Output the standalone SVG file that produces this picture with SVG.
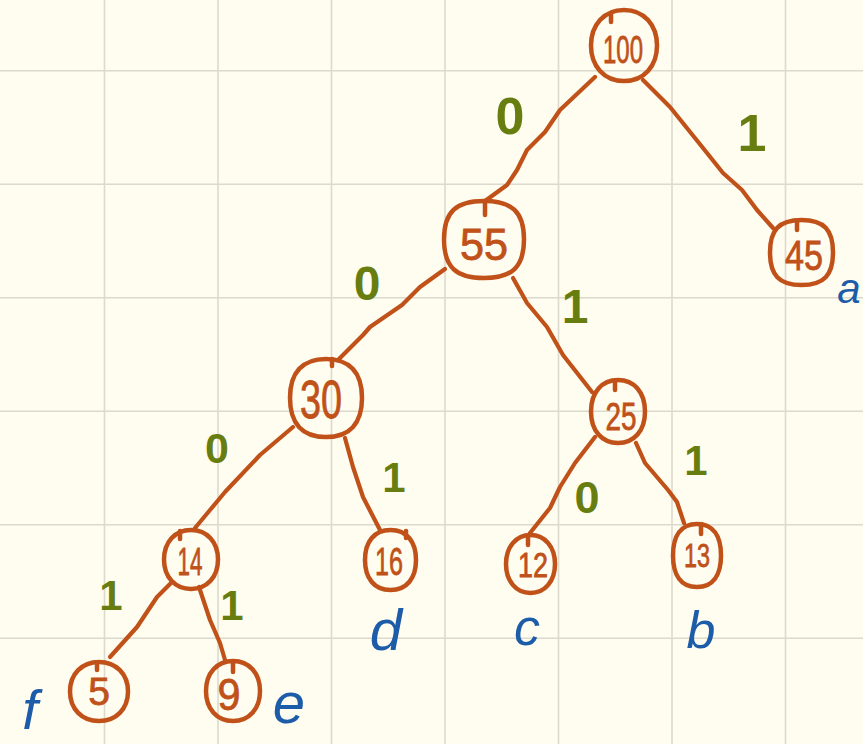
<svg xmlns="http://www.w3.org/2000/svg" width="863" height="744" viewBox="0 0 863 744">
<style>
.grid line{stroke:#dcd9cd;stroke-width:1.6}
.node path{fill:none;stroke:#c05119;stroke-width:4.5;stroke-linecap:round;stroke-linejoin:round}
.node text.num{fill:#c05119;stroke:#c05119;stroke-width:0.8;font-family:"Liberation Sans",Arial,sans-serif;text-anchor:middle}
#edges polyline{fill:none;stroke:#c05119;stroke-width:4.2;stroke-linecap:round;stroke-linejoin:round}
.bit{fill:#687d10;font-family:"Liberation Sans",Arial,sans-serif;font-weight:bold;text-anchor:middle}
.node text.sym{fill:#1d5ca8;font-family:"Liberation Sans",Arial,sans-serif;font-style:italic;text-anchor:middle}
</style>
<rect width="863" height="744" fill="#fffdf0"/>
<g class="grid">
<line x1="104.5" y1="0" x2="104.5" y2="744"/>
<line x1="218" y1="0" x2="218" y2="744"/>
<line x1="331.5" y1="0" x2="331.5" y2="744"/>
<line x1="445" y1="0" x2="445" y2="744"/>
<line x1="558.5" y1="0" x2="558.5" y2="744"/>
<line x1="672" y1="0" x2="672" y2="744"/>
<line x1="785.5" y1="0" x2="785.5" y2="744"/>
<line x1="0" y1="70.7" x2="863" y2="70.7"/>
<line x1="0" y1="184.2" x2="863" y2="184.2"/>
<line x1="0" y1="297.7" x2="863" y2="297.7"/>
<line x1="0" y1="411.2" x2="863" y2="411.2"/>
<line x1="0" y1="524.7" x2="863" y2="524.7"/>
<line x1="0" y1="638.2" x2="863" y2="638.2"/>
</g>
<g id="edges">
<polyline points="595,77 560,110 545,132 527,150 517,170 507,185 485,201"/>
<polyline points="643,80 670,107 703,148 723,173 742,190 757,210 773,228"/>
<polyline points="445,269 420,287 402,305 370,327 363,335 338,360"/>
<polyline points="513,278 527,303 547,327 563,355 592,392"/>
<polyline points="293,427 260,455 225,492 210,510 195,528"/>
<polyline points="345,438 353,467 363,497 380,530"/>
<polyline points="595,437 575,463 560,487 550,508 530,533"/>
<polyline points="636,443 645,463 668,490 677,502 684,523"/>
<polyline points="171,583 157,597 137,627 110,657"/>
<polyline points="199,587 210,620 220,643 225,660"/>
</g>
<g id="edge-labels">
<text class="bit" x="510" y="134" font-size="52">0</text>
<text class="bit" x="752" y="151" font-size="52">1</text>
<text class="bit" x="367" y="300" font-size="48">0</text>
<text class="bit" x="575" y="323" font-size="48">1</text>
<text class="bit" x="217" y="463" font-size="43">0</text>
<text class="bit" x="394" y="492" font-size="42">1</text>
<text class="bit" x="587" y="513" font-size="45">0</text>
<text class="bit" x="696" y="475" font-size="42">1</text>
<text class="bit" x="111" y="610" font-size="42">1</text>
<text class="bit" x="232" y="620" font-size="42">1</text>
</g>
<g id="n100" class="node">
<path d="M624,10 C644,10 657,25 657,45.5 C657,66 644,81 624,81 C604,81 591,66 591,45.5 C591,25 604,10 624,10 Z"/>
<path d="M611,14 L611,22"/>
<text class="num" x="623" y="63" font-size="39" textLength="40" lengthAdjust="spacingAndGlyphs">100</text>
</g>
<g id="n45" class="node">
<path d="M801.5,220 C824,220 833,230 833,252.5 C833,275 824,285 801.5,285 C779,285 770,275 770,252.5 C770,230 779,220 801.5,220 Z"/>
<path d="M797,222 L797,230"/>
<text class="num" x="804" y="270" font-size="42" textLength="38" lengthAdjust="spacingAndGlyphs">45</text>
<text class="sym" x="849" y="303" font-size="42">a</text>
</g>
<g id="n55" class="node">
<path d="M484,201 C512,201 524,212 524,239.5 C524,267 512,278 484,278 C456,278 444,267 444,239.5 C444,212 456,201 484,201 Z"/>
<path d="M485,201 L485,215"/>
<text class="num" x="484" y="260" font-size="45" textLength="48" lengthAdjust="spacingAndGlyphs">55</text>
</g>
<g id="n30" class="node">
<path d="M326,359 C350,359 362,373 362,398 C362,423 350,437 326,437 C302,437 290,423 290,398 C290,373 302,359 326,359 Z"/>
<path d="M332,359 L332,366"/>
<text class="num" x="321" y="418" font-size="53" textLength="42" lengthAdjust="spacingAndGlyphs">30</text>
</g>
<g id="n25" class="node">
<path d="M618,380 C634,380 645,392 645,411.5 C645,431 634,443 618,443 C602,443 591,431 591,411.5 C591,392 602,380 618,380 Z"/>
<path d="M615,381 L615,390"/>
<text class="num" x="621" y="430" font-size="39" textLength="31" lengthAdjust="spacingAndGlyphs">25</text>
</g>
<g id="n12" class="node">
<path d="M530.5,535 C545,535 555,547 555,564 C555,581 545,593 530.5,593 C516,593 506,581 506,564 C506,547 516,535 530.5,535 Z"/>
<path d="M528,536 L528,545"/>
<text class="num" x="533" y="577" font-size="35" textLength="30" lengthAdjust="spacingAndGlyphs">12</text>
<text class="sym" x="527" y="645" font-size="52">c</text>
</g>
<g id="n13" class="node">
<path d="M697,524 C713,524 721,536 721,555.5 C721,575 713,587 697,587 C681,587 673,575 673,555.5 C673,536 681,524 697,524 Z"/>
<path d="M701,524 L701,534"/>
<text class="num" x="697" y="567" font-size="34" textLength="26" lengthAdjust="spacingAndGlyphs">13</text>
<text class="sym" x="701" y="648" font-size="52">b</text>
</g>
<g id="n14" class="node">
<path d="M191,530 C207,530 218,542 218,559.5 C218,577 207,589 191,589 C175,589 164,577 164,559.5 C164,542 175,530 191,530 Z"/>
<path d="M180,531 L180,539"/>
<text class="num" x="190" y="575" font-size="39" textLength="25" lengthAdjust="spacingAndGlyphs">14</text>
</g>
<g id="n16" class="node">
<path d="M390.5,530 C407,530 416,542 416,560 C416,578 407,590 390.5,590 C374,590 365,578 365,560 C365,542 374,530 390.5,530 Z"/>
<path d="M406,531 L406,538"/>
<text class="num" x="389" y="575" font-size="39" textLength="28" lengthAdjust="spacingAndGlyphs">16</text>
<text class="sym" x="386" y="650" font-size="58">d</text>
</g>
<g id="n5" class="node">
<path d="M99,662 C116,662 128,674 128,691.5 C128,709 116,721 99,721 C82,721 70,709 70,691.5 C70,674 82,662 99,662 Z"/>
<path d="M97,663 L97,670"/>
<text class="num" x="99" y="705" font-size="39">5</text>
<text class="sym" x="30" y="729" font-size="56">f</text>
</g>
<g id="n9" class="node">
<path d="M233,661 C249,661 260,673 260,691 C260,709 249,721 233,721 C217,721 206,709 206,691 C206,673 217,661 233,661 Z"/>
<path d="M233,662 L233,672"/>
<text class="num" x="229" y="710" font-size="44" textLength="23" lengthAdjust="spacingAndGlyphs">9</text>
<text class="sym" x="289" y="723" font-size="58">e</text>
</g>
</svg>
